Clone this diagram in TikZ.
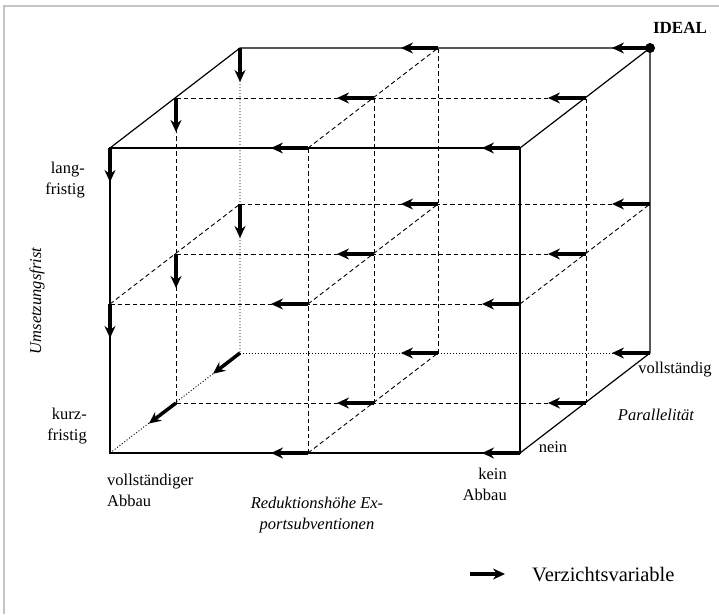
\documentclass[tikz,border=0pt]{standalone}
\usepackage{fontspec}
\setmainfont{Liberation Serif}
\usetikzlibrary{arrows.meta,calc}
\definecolor{framegray}{HTML}{C4C4C4}
\tikzset{
  edge/.style={line width=1.2pt},
  hidden/.style={line width=0.9pt,dash pattern=on 1pt off 2pt},
  grid/.style={line width=0.9pt,dash pattern=on 4.5pt off 3pt},
  verz/.style={-{Stealth[length=12pt,width=11pt,inset=4pt]},line width=3.5pt},
  lbl/.style={font=\fontsize{16.5}{21}\selectfont,inner sep=0pt},
  axlbl/.style={font=\fontsize{16.5}{21}\selectfont\itshape,inner sep=0pt},
  dot/.style={circle,fill,inner sep=0pt,minimum size=10pt},
}
\begin{document}
\begin{tikzpicture}[x=1pt,y=-1pt]
\useasboundingbox (0,0) rectangle (719,614);
\draw[framegray,line width=1.5pt] (4,614) -- (4,6) -- (719,6);

% grid points p<x><y><depth>
\foreach \i/\xx in {0/0,1/198,2/410}
  \foreach \j/\yy in {0/0,1/149,2/305}
    \foreach \k/\zx/\zy in {0/0/0,1/66/50,2/130/100}
      \coordinate (p\i\j\k) at (110+\xx+\zx,453-\yy-\zy);

% inner lines
\foreach \a/\b in {1/0,0/1,1/1,2/1,1/2}{
  \draw[grid] (p0\a\b) -- (p2\a\b);
  \draw[grid] (p\a0\b) -- (p\a2\b);
  \draw[grid] (p\a\b0) -- (p\a\b2);
}
% hidden edges
\draw[hidden] (p000) -- (p002) -- (p022);
\draw[hidden] (p002) -- (p202);
% visible edges
\draw[edge] (p000) -- (p200) -- (p220) -- (p020) -- cycle;
\draw[edge] (p020) -- (p022) -- (p222) -- (p220);
\draw[edge] (p222) -- (p202) -- (p200);

% Verzichtsvariablen
\foreach \j in {0,1,2}
  \foreach \k in {0,1,2}{
    \draw[verz] (p1\j\k) -- ($(p1\j\k)!37pt!(p0\j\k)$);
    \draw[verz] (p2\j\k) -- ($(p2\j\k)!38pt!(p0\j\k)$);
  }
\foreach \j/\n in {1/0,2/1}
  \foreach \k in {0,1,2}
    \draw[verz] (p0\j\k) -- ($(p0\j\k)!34pt!(p0\n\k)$);
\foreach \k in {1,2}
  \draw[verz] (p00\k) -- ($(p00\k)!34pt!(p000)$);

\node[dot] (ideal) at (p222) {};
\node[lbl,font=\fontsize{17}{21}\selectfont\bfseries] (idl) at (680,28) {IDEAL};

% labels
\node[lbl,align=right,anchor=east] (lang) at (85,180) {lang-\\fristig};
\node[lbl,align=right,anchor=east] (kurz) at (87,426) {kurz-\\fristig};
\node[axlbl,rotate=90] (frist) at (37,301) {Umsetzungsfrist};
\node[lbl,align=left,anchor=west] (vollab) at (107,490) {vollständiger\\Abbau};
\node[axlbl,align=center] (redu) at (317,515) {Reduktionshöhe Ex-\\portsubventionen};
\node[lbl,align=right,anchor=east] (kein) at (507,484) {kein\\Abbau};
\node[lbl] (nein) at (553,447) {nein};
\node[lbl] (voll) at (675,370) {vollständig};
\node[axlbl] (para) at (656,415) {Parallelität};

% legend
\coordinate (legtail) at (470,574);
\coordinate (leghead) at (505,574);
\draw[verz] (legtail) -- (leghead);
\node[font=\fontsize{20.5}{24}\selectfont,anchor=west,inner sep=0pt] (legtxt) at (532,575) {Verzichtsvariable};
\end{tikzpicture}
\end{document}
